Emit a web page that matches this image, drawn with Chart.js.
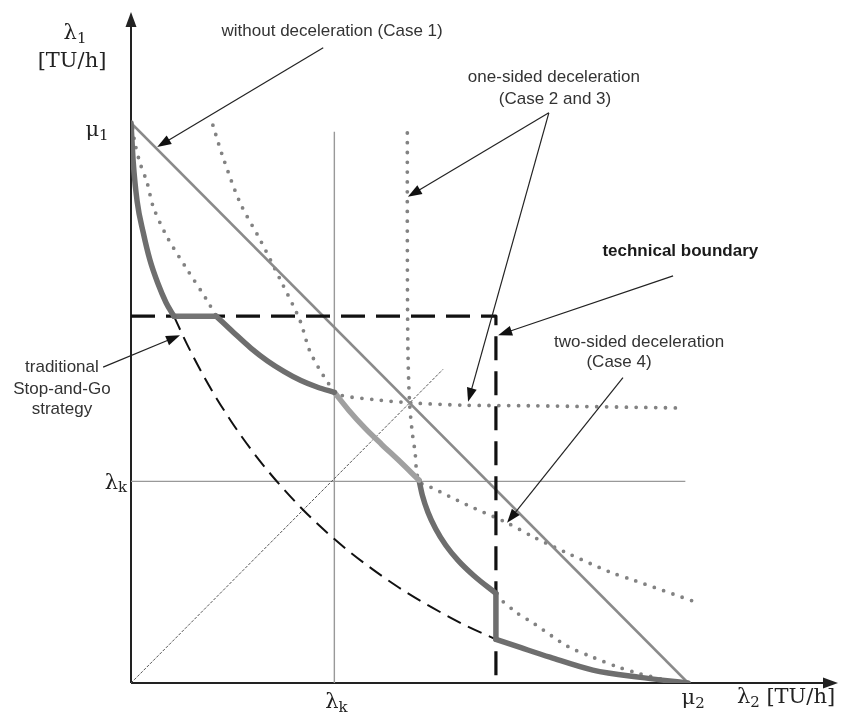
<!DOCTYPE html>
<html lang="en">
<head>
<meta charset="utf-8">
<title>Stop-and-Go capacity diagram</title>
<script src="https://cdn.jsdelivr.net/npm/chart.js@4.4.1/dist/chart.umd.min.js"></script>
<style>
html, body { margin: 0; padding: 0; background: #fff; }
</style>
</head>
<body>
<canvas id="c" width="845" height="718"></canvas>
<script>
// units: mu1 = mu2 = 100 TU/h
var xMax = 126.9, yMax = 119.8;

// curves, [lambda2, lambda1]
var noDecel     = [[0,100],[100,0]];
var kVertical   = [[36.5,0],[36.5,98.4]];
var kHorizontal = [[0,36],[99.5,36]];
var diagonal    = [[0,0],[56,56]];
var techBound   = [[0,65.5],[65.5,65.5],[65.5,0]];
var stopGo      = [[7.7,65.5],[10,60.6],[14,53.1],[18,46.7],[22,41.1],[26,36.2],[31,30.8],[36.5,25.7],[42,21.3],[48,17.1],[54,13.5],[60,10.3],[65.5,7.8]];

// thick envelope, split where it has corners
var envTop    = [[0,100],[0.4,93],[1.1,86],[2.2,80.4],[3.4,75.5],[4.8,71.4],[6.3,67.9],[7.7,65.5]];
var envFlat   = [[7.7,65.5],[15.3,65.5]];
var envMid    = [[15.3,65.5],[18.5,62.5],[21.5,59.8],[24.5,57.5],[27.5,55.6],[30.5,54.0],[33.5,52.8],[36.5,51.9]];
var envLight  = [[36.5,51.9],[39,48.8],[42,45.5],[45,42.6],[48,39.8],[51.7,36.2]];
var envLow    = [[51.7,36.2],[52.3,33.5],[53.3,30.5],[54.7,27.5],[56.5,24.6],[58.7,21.9],[61.5,19.2],[65.5,16.0]];
var envDrop   = [[65.5,16.0],[65.5,7.8]];
var envTail   = [[65.5,7.8],[70,6.3],[75.2,4.6],[82.9,2.3],[91.4,1.0],[100,0]];

// dotted deceleration curves
var dotUpper = [[0.3,99],[0.7,96.4],[1.6,92.9],[2.9,89.3],[4.0,85.0],[6.5,79.6],[10.1,73.8],[13.6,68.4],[15.3,65.5]];
var dotCase2 = [[14.7,99.6],[16.5,93.9],[19.6,85.7],[23.2,79.1],[26.8,72.0],[30.3,64.8],[32.0,59.5],[33.6,56.4],[35.5,53.4],[36.8,51.6],[44.7,50.5],[50.6,50.0],[59.6,49.6],[71.6,49.5],[98.9,49.1]];
var dotCase3 = [[49.6,98.2],[49.6,80],[49.7,60],[50.0,50],[50.5,44.6],[51.0,41.1],[51.3,37.5],[51.9,35.8],[53.7,35.0],[60.3,31.8],[67.5,28.6],[72.2,26.1],[78.3,23.2],[86.0,19.8],[90.1,18.4],[101.8,14.3]];
var dotLower = [[65.5,15.6],[69.3,12.5],[72.2,10.7],[78.3,6.6],[82.9,4.6],[87.3,2.9],[90.8,1.8],[96,0.5]];

// tick labels: [value, symbol, subscript]
var xTicks = [[36.5,'λ','k'],[100,'μ','2']];
var yTicks = [[36,'λ','k'],[100,'μ','1']];

function pts(a) {
  return a.map(function (p) { return { x: p[0], y: p[1] }; });
}

function line(data, color, width, dash, cap, smooth) {
  return {
    data: pts(data),
    showLine: true,
    borderColor: color,
    borderWidth: width,
    borderDash: dash || [],
    borderCapStyle: cap || 'butt',
    borderJoinStyle: 'round',
    pointRadius: 0,
    tension: smooth === 'none' ? 0 : 0.3,
    cubicInterpolationMode: smooth === 'mono' ? 'monotone' : 'default',
    fill: false
  };
}

var thick = '#6e6e6e';
var dots = '#828282';
var dotDash = [0, 9.8];

var datasets = [
  line(envTop, thick, 5.5, [], 'round', 'mono'),
  line(envFlat, '#747474', 5.5, [], 'round', 'none'),
  line(envMid, thick, 5.5, [], 'round', 'mono'),
  line(envLight, '#a0a0a0', 5.5, [], 'round', 'mono'),
  line(envLow, thick, 5.5, [], 'round', 'mono'),
  line(envDrop, thick, 5.5, [], 'round', 'none'),
  line(envTail, thick, 5.5, [], 'round', 'mono'),
  line(techBound, '#111', 3.2, [24, 11], 'butt', 'none'),
  line(stopGo, '#111', 2, [15, 8], 'butt', 'mono'),
  line(noDecel, '#8a8a8a', 2.6, [], 'butt', 'none'),
  line(dotUpper, dots, 3.8, dotDash, 'round'),
  line(dotCase2, dots, 3.8, dotDash, 'round'),
  line(dotCase3, dots, 3.8, dotDash, 'round'),
  line(dotLower, dots, 3.8, dotDash, 'round'),
  line(diagonal, '#555', 1, [3, 1.5], 'butt', 'none'),
  line(kVertical, '#999', 1.4, [], 'butt', 'none'),
  line(kHorizontal, '#999', 1.4, [], 'butt', 'none')
];

// annotation texts and arrows (data units)
var notes = [
  { text: 'without deceleration (Case 1)', x: 36.1, y: 116.3 },
  { text: 'one-sided deceleration', x: 75.9, y: 108.2 },
  { text: '(Case 2 and 3)', x: 76.1, y: 104.3 },
  { text: 'technical boundary', x: 98.6, y: 77.0, bold: true },
  { text: 'two-sided deceleration', x: 91.2, y: 60.9 },
  { text: '(Case 4)', x: 87.6, y: 57.3 },
  { text: 'traditional', x: -12.4, y: 56.3 },
  { text: 'Stop-and-Go', x: -12.4, y: 52.5 },
  { text: 'strategy', x: -12.4, y: 48.8 }
];
var pointers = [
  [34.5, 113.4, 4.7, 95.7],
  [75.0, 101.8, 49.7, 86.8],
  [75.0, 101.8, 60.5, 50.2],
  [97.3, 72.7, 65.9, 62.1],
  [88.3, 54.5, 67.5, 28.6],
  [-5.0, 56.4, 8.8, 62.1]
];

function arrowHead(ctx, x1, y1, x2, y2, len, half) {
  var a = Math.atan2(y2 - y1, x2 - x1);
  var c = Math.cos(a), s = Math.sin(a);
  ctx.beginPath();
  ctx.moveTo(x1, y1);
  ctx.lineTo(x2 - c * len * 0.7, y2 - s * len * 0.7);
  ctx.stroke();
  ctx.beginPath();
  ctx.moveTo(x2, y2);
  ctx.lineTo(x2 - len * c + half * s, y2 - len * s - half * c);
  ctx.lineTo(x2 - len * c - half * s, y2 - len * s + half * c);
  ctx.closePath();
  ctx.fill();
}

// symbol with a subscript, centred on (cx, cy)
function mathLabel(ctx, cx, cy, sym, sub, rest) {
  var big = '21px "DejaVu Serif"', small = '15px "DejaVu Serif"';
  ctx.font = big;
  var w1 = ctx.measureText(sym).width;
  var w3 = rest ? ctx.measureText(rest).width : 0;
  ctx.font = small;
  var w2 = ctx.measureText(sub).width;
  var x = cx - (w1 + w2 + w3) / 2;
  ctx.textAlign = 'left';
  ctx.textBaseline = 'middle';
  ctx.font = big;
  ctx.fillText(sym, x, cy);
  ctx.font = small;
  ctx.fillText(sub, x + w1, cy + 5);
  if (rest) {
    ctx.font = big;
    ctx.fillText(rest, x + w1 + w2, cy);
  }
}

var axesPlugin = {
  id: 'axes',
  beforeDatasetsDraw: function (chart) {
    var ctx = chart.ctx, sx = chart.scales.x, sy = chart.scales.y;
    var x0 = sx.getPixelForValue(0), y0 = sy.getPixelForValue(0);
    ctx.save();
    ctx.strokeStyle = '#222';
    ctx.fillStyle = '#222';
    ctx.lineWidth = 2;
    arrowHead(ctx, x0, y0, x0, sy.getPixelForValue(yMax), 15, 5.5);
    arrowHead(ctx, x0, y0, sx.getPixelForValue(xMax), y0, 15, 5.5);
    ctx.restore();
  },
  afterDatasetsDraw: function (chart) {
    var ctx = chart.ctx, sx = chart.scales.x, sy = chart.scales.y;
    function px(v) { return sx.getPixelForValue(v); }
    function py(v) { return sy.getPixelForValue(v); }
    ctx.save();
    ctx.fillStyle = '#222';

    // tick labels
    mathLabel(ctx, px(xTicks[0][0]) + 2, py(0) + 20, xTicks[0][1], xTicks[0][2]);
    mathLabel(ctx, px(xTicks[1][0]) + 5, py(0) + 16, xTicks[1][1], xTicks[1][2]);
    mathLabel(ctx, px(0) - 15, py(yTicks[0][0]) + 2, yTicks[0][1], yTicks[0][2]);
    mathLabel(ctx, px(0) - 34, py(yTicks[1][0]) + 8, yTicks[1][1], yTicks[1][2]);

    // axis titles
    mathLabel(ctx, px(0) - 56, 34, 'λ', '1');
    ctx.font = '21px "DejaVu Serif"';
    ctx.textAlign = 'center';
    ctx.textBaseline = 'middle';
    ctx.fillText('[TU/h]', px(0) - 59, 62);
    mathLabel(ctx, 786, py(0) + 15, 'λ', '2', ' [TU/h]');

    // annotations
    ctx.textAlign = 'center';
    ctx.textBaseline = 'middle';
    notes.forEach(function (n) {
      ctx.font = (n.bold ? 'bold ' : '') + '17px "Liberation Sans", Arial, sans-serif';
      ctx.fillStyle = n.bold ? '#1a1a1a' : '#333';
      ctx.fillText(n.text, px(n.x), py(n.y));
    });
    ctx.strokeStyle = '#222';
    ctx.fillStyle = '#111';
    ctx.lineWidth = 1.2;
    pointers.forEach(function (p) {
      arrowHead(ctx, px(p[0]), py(p[1]), px(p[2]), py(p[3]), 14, 5);
    });
    ctx.restore();
  }
};

var ctx = document.getElementById('c').getContext('2d');
var chart = new Chart(ctx, {
  type: 'scatter',
  data: { datasets: datasets },
  options: {
    responsive: false,
    animation: false,
    events: [],
    layout: { padding: { left: 131, right: 7, top: 12, bottom: 35 } },
    scales: {
      x: { type: 'linear', min: 0, max: xMax, display: false },
      y: { type: 'linear', min: 0, max: yMax, display: false }
    },
    plugins: {
      legend: { display: false },
      tooltip: { enabled: false }
    }
  },
  plugins: [axesPlugin]
});
</script>
</body>
</html>
